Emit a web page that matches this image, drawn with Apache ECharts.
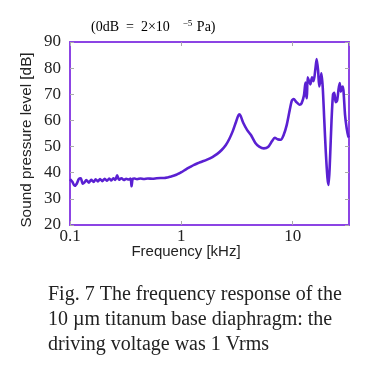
<!DOCTYPE html>
<html><head><meta charset="utf-8">
<script src="https://cdn.jsdelivr.net/npm/echarts@6/dist/echarts.min.js"></script>
<style>html,body{margin:0;padding:0;background:#fff}#c{width:373px;height:370px}</style>
</head><body><div id="c"></div>
<script>
const freqKHz = [0.100,0.105,0.110,0.115,0.120,0.125,0.130,0.135,0.140,0.148,0.155,0.163,0.170,0.178,0.186,0.195,0.205,0.215,0.225,0.235,0.245,0.255,0.265,0.275,0.290,0.305,0.320,0.335,0.350,0.357,0.365,0.38,0.40,0.43,0.46,0.50,0.55,0.60,0.65,0.70,0.75,0.80,0.85,0.90,0.95,1.00,1.10,1.20,1.30,1.40,1.50,1.70,1.90,2.10,2.30,2.50,2.70,2.90,3.10,3.30,3.40,3.60,3.90,4.20,4.60,5.00,5.50,6.00,6.50,6.90,7.30,7.80,8.30,8.80,9.30,9.80,10.2,10.8,11.5,12.0,12.6,13.0,13.2,13.4,13.6,14.0,14.4,14.9,15.4,16.0,16.4,16.9,17.3,17.8,18.1,18.6,19.2,19.8,20.5,21.0,21.6,22.3,23.0,23.6,24.3,25.0,25.8,26.4,27.0,27.6,28.2,28.7,29.5,30.5,31.5,32.0];
const splDB = [37.5,36.5,35.0,35.8,37.6,37.9,35.8,36.3,37.2,36.2,37.3,36.5,37.5,36.7,37.6,36.8,37.7,36.9,37.8,37.0,37.9,37.2,39.0,37.3,37.9,37.2,37.7,37.4,37.8,34.8,37.6,37.8,37.5,37.8,37.6,37.8,37.7,37.9,38.0,38.0,38.2,38.5,38.8,39.2,39.7,40.2,41.3,42.2,43.0,43.6,44.1,45.0,46.0,47.2,48.7,50.5,53.0,56.0,59.5,62.3,61.8,59.0,56.3,54.5,51.5,50.0,49.3,49.8,52.0,53.4,52.8,52.6,54.5,58.0,63.0,67.5,68.2,67.0,66.0,66.5,69.5,74.5,70.0,68.5,76.5,75.0,73.8,76.5,75.0,80.0,83.5,79.0,73.0,75.5,78.0,72.5,60.0,48.0,38.0,35.3,45.0,60.0,70.0,70.6,67.0,67.5,72.0,74.3,71.0,72.6,73.0,70.0,62.0,57.0,54.0,53.5];
const xTickLabels = ['0.1','1','10'];
const yTicks = [20,30,40,50,60,70,80,90];
const yAxisTitle = 'Sound pressure level [dB]';
const xAxisTitle = 'Frequency [kHz]';
const captionLines = ['Fig. 7 The frequency response of the','10 \u00b5m titanum base diaphragm: the','driving voltage was 1 Vrms'];

const seriesData = freqKHz.map((f,i)=>[f, splDB[i]]);
const chart = echarts.init(document.getElementById('c'), null, {renderer:'canvas'});
const borderCol = '#8c44e4';
const tickCol = '#aaaaaa';
const serif = '"Liberation Serif","DejaVu Serif",serif';
const sans = '"Liberation Sans",Arial,sans-serif';
function xFmt(v){
  const e = Math.log10(v);
  if (Math.abs(e-Math.round(e))<1e-6) {
    const s = xTickLabels.find(t=>Math.abs(parseFloat(t)-v)<1e-9);
    return s || '';
  }
  return '';
}
const common = {
  axisLine:{show:true,lineStyle:{color:borderCol,width:2}},
  axisTick:{show:true,inside:true,length:4,lineStyle:{color:tickCol,width:1}},
  splitLine:{show:false}
};
chart.setOption({
  animation:false,
  grid:{left:70,right:24,top:42,bottom:145,containLabel:false},
  xAxis:[
    Object.assign({type:'log',logBase:10,min:0.1,max:32,position:'bottom',
      axisLabel:{formatter:xFmt,fontFamily:serif,fontSize:17,color:'#222',margin:3,showMaxLabel:false}},common),
    Object.assign({type:'log',logBase:10,min:0.1,max:32,position:'top',axisLabel:{show:false}},common)
  ],
  yAxis:[
    Object.assign({type:'value',min:yTicks[0],max:yTicks[yTicks.length-1],interval:10,position:'left',
      axisLabel:{fontFamily:serif,fontSize:17,color:'#222',margin:9}},common),
    Object.assign({type:'value',min:yTicks[0],max:yTicks[yTicks.length-1],interval:10,position:'right',axisLabel:{show:false}},common)
  ],
  series:[{type:'line',data:seriesData,showSymbol:false,smooth:0.25,
    lineStyle:{color:'#5a20d2',width:2.6},z:3}],
  graphic:[
    {type:'text',left:91,top:19,style:{
      text:'{a|(0dB  =  2\u00d710  }{s|\u22125}{a| Pa)}',
      rich:{a:{fontFamily:serif,fontSize:14,color:'#222'},s:{fontFamily:serif,fontSize:9,color:'#222',verticalAlign:'top',padding:[0,1,8,6]}}}},
    {type:'text',x:27,y:140,rotation:Math.PI/2,style:{text:yAxisTitle,fontFamily:sans,fontSize:15.3,fill:'#222',align:'center',verticalAlign:'middle'}},
    {type:'text',x:186,y:252,style:{text:xAxisTitle,fontFamily:sans,fontSize:15,fill:'#222',align:'center',verticalAlign:'middle'}},
    {type:'text',x:48,y:295,style:{text:captionLines[0],fontFamily:serif,fontSize:20,fill:'#222',align:'left',verticalAlign:'middle'}},
    {type:'text',x:48,y:320,style:{text:captionLines[1],fontFamily:serif,fontSize:20,fill:'#222',align:'left',verticalAlign:'middle'}},
    {type:'text',x:48,y:345,style:{text:captionLines[2],fontFamily:serif,fontSize:20,fill:'#222',align:'left',verticalAlign:'middle'}}
  ]
});
</script></body></html>
